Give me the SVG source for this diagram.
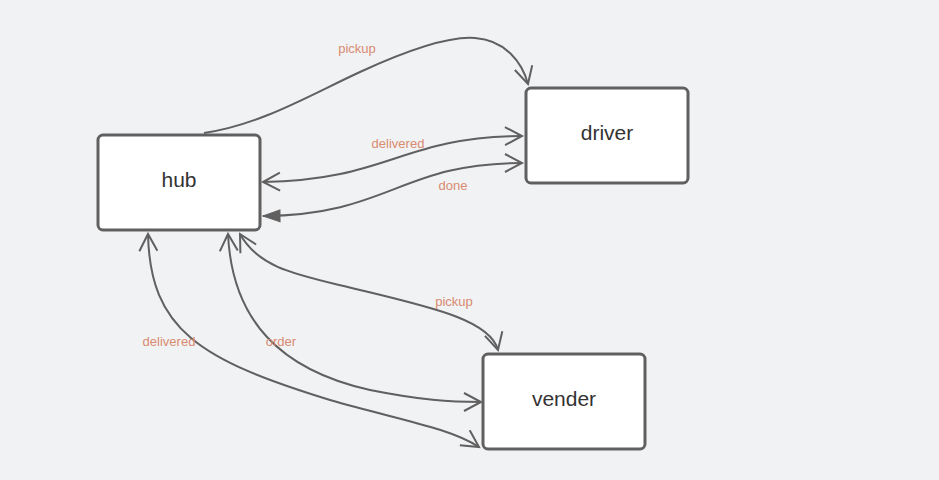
<svg xmlns="http://www.w3.org/2000/svg" width="939" height="480" viewBox="0 0 939 480">
<defs>
<style>
.node rect{fill:#fff;stroke:#606060;stroke-width:3}
.node text{font-family:"Liberation Sans",Arial,sans-serif;font-size:21px;fill:#333;text-anchor:middle;dominant-baseline:central}
.edge{fill:none;stroke:#606060;stroke-width:2}
.lbl{font-family:"Liberation Sans",Arial,sans-serif;font-size:13px;fill:#d98a70;text-anchor:middle}
</style>
<marker id="open" markerUnits="userSpaceOnUse" viewBox="-20 -12 24 24" markerWidth="24" markerHeight="24" refX="0" refY="0" orient="auto-start-reverse">
<path d="M-17,-9 L0,0 L-17,9" fill="none" stroke="#606060" stroke-width="2"/>
</marker>
<marker id="filled" markerUnits="userSpaceOnUse" viewBox="-20 -10 24 20" markerWidth="24" markerHeight="20" refX="0" refY="0" orient="auto-start-reverse">
<path d="M-17,-6 L0,0 L-17,6 Z" fill="#606060" stroke="#606060" stroke-width="1"/>
</marker>
</defs>
<rect width="939" height="480" fill="#f1f2f4"/>
<g id="connectors">
<path class="edge" d="M204,133 C260,125 310,95 360,72 C410,49 450,36 475,38 C505,40 522,62 528,84" marker-end="url(#open)"/>
<path class="edge" d="M263,182 C390,180 400,137 522,136" marker-start="url(#open)" marker-end="url(#open)"/>
<path class="edge" d="M263,216 C390,215 400,163 522,163" marker-start="url(#filled)" marker-end="url(#open)"/>
<path class="edge" d="M240,234 C260,270 300,275 360,290 C430,307 490,320 498,350" marker-start="url(#open)" marker-end="url(#open)"/>
<path class="edge" d="M228,234 C232,320 280,370 370,390 C420,400 450,402 481,402" marker-start="url(#open)" marker-end="url(#open)"/>
<path class="edge" d="M148,234 C150,330 200,360 330,400 C400,420 450,428 479,447" marker-start="url(#open)" marker-end="url(#open)"/>
<text class="lbl" x="357" y="53">pickup</text>
<text class="lbl" x="398" y="148">delivered</text>
<text class="lbl" x="453" y="190">done</text>
<text class="lbl" x="454" y="306">pickup</text>
<text class="lbl" x="169" y="346">delivered</text>
<text class="lbl" x="281" y="346">order</text>
</g>
<g id="hub" class="node"><rect x="98" y="135" width="162" height="95" rx="5"/><text x="179" y="179">hub</text></g>
<g id="driver" class="node"><rect x="526" y="88" width="162" height="95" rx="5"/><text x="607" y="132">driver</text></g>
<g id="vender" class="node"><rect x="483" y="354" width="162" height="95" rx="5"/><text x="564" y="398">vender</text></g>
</svg>
